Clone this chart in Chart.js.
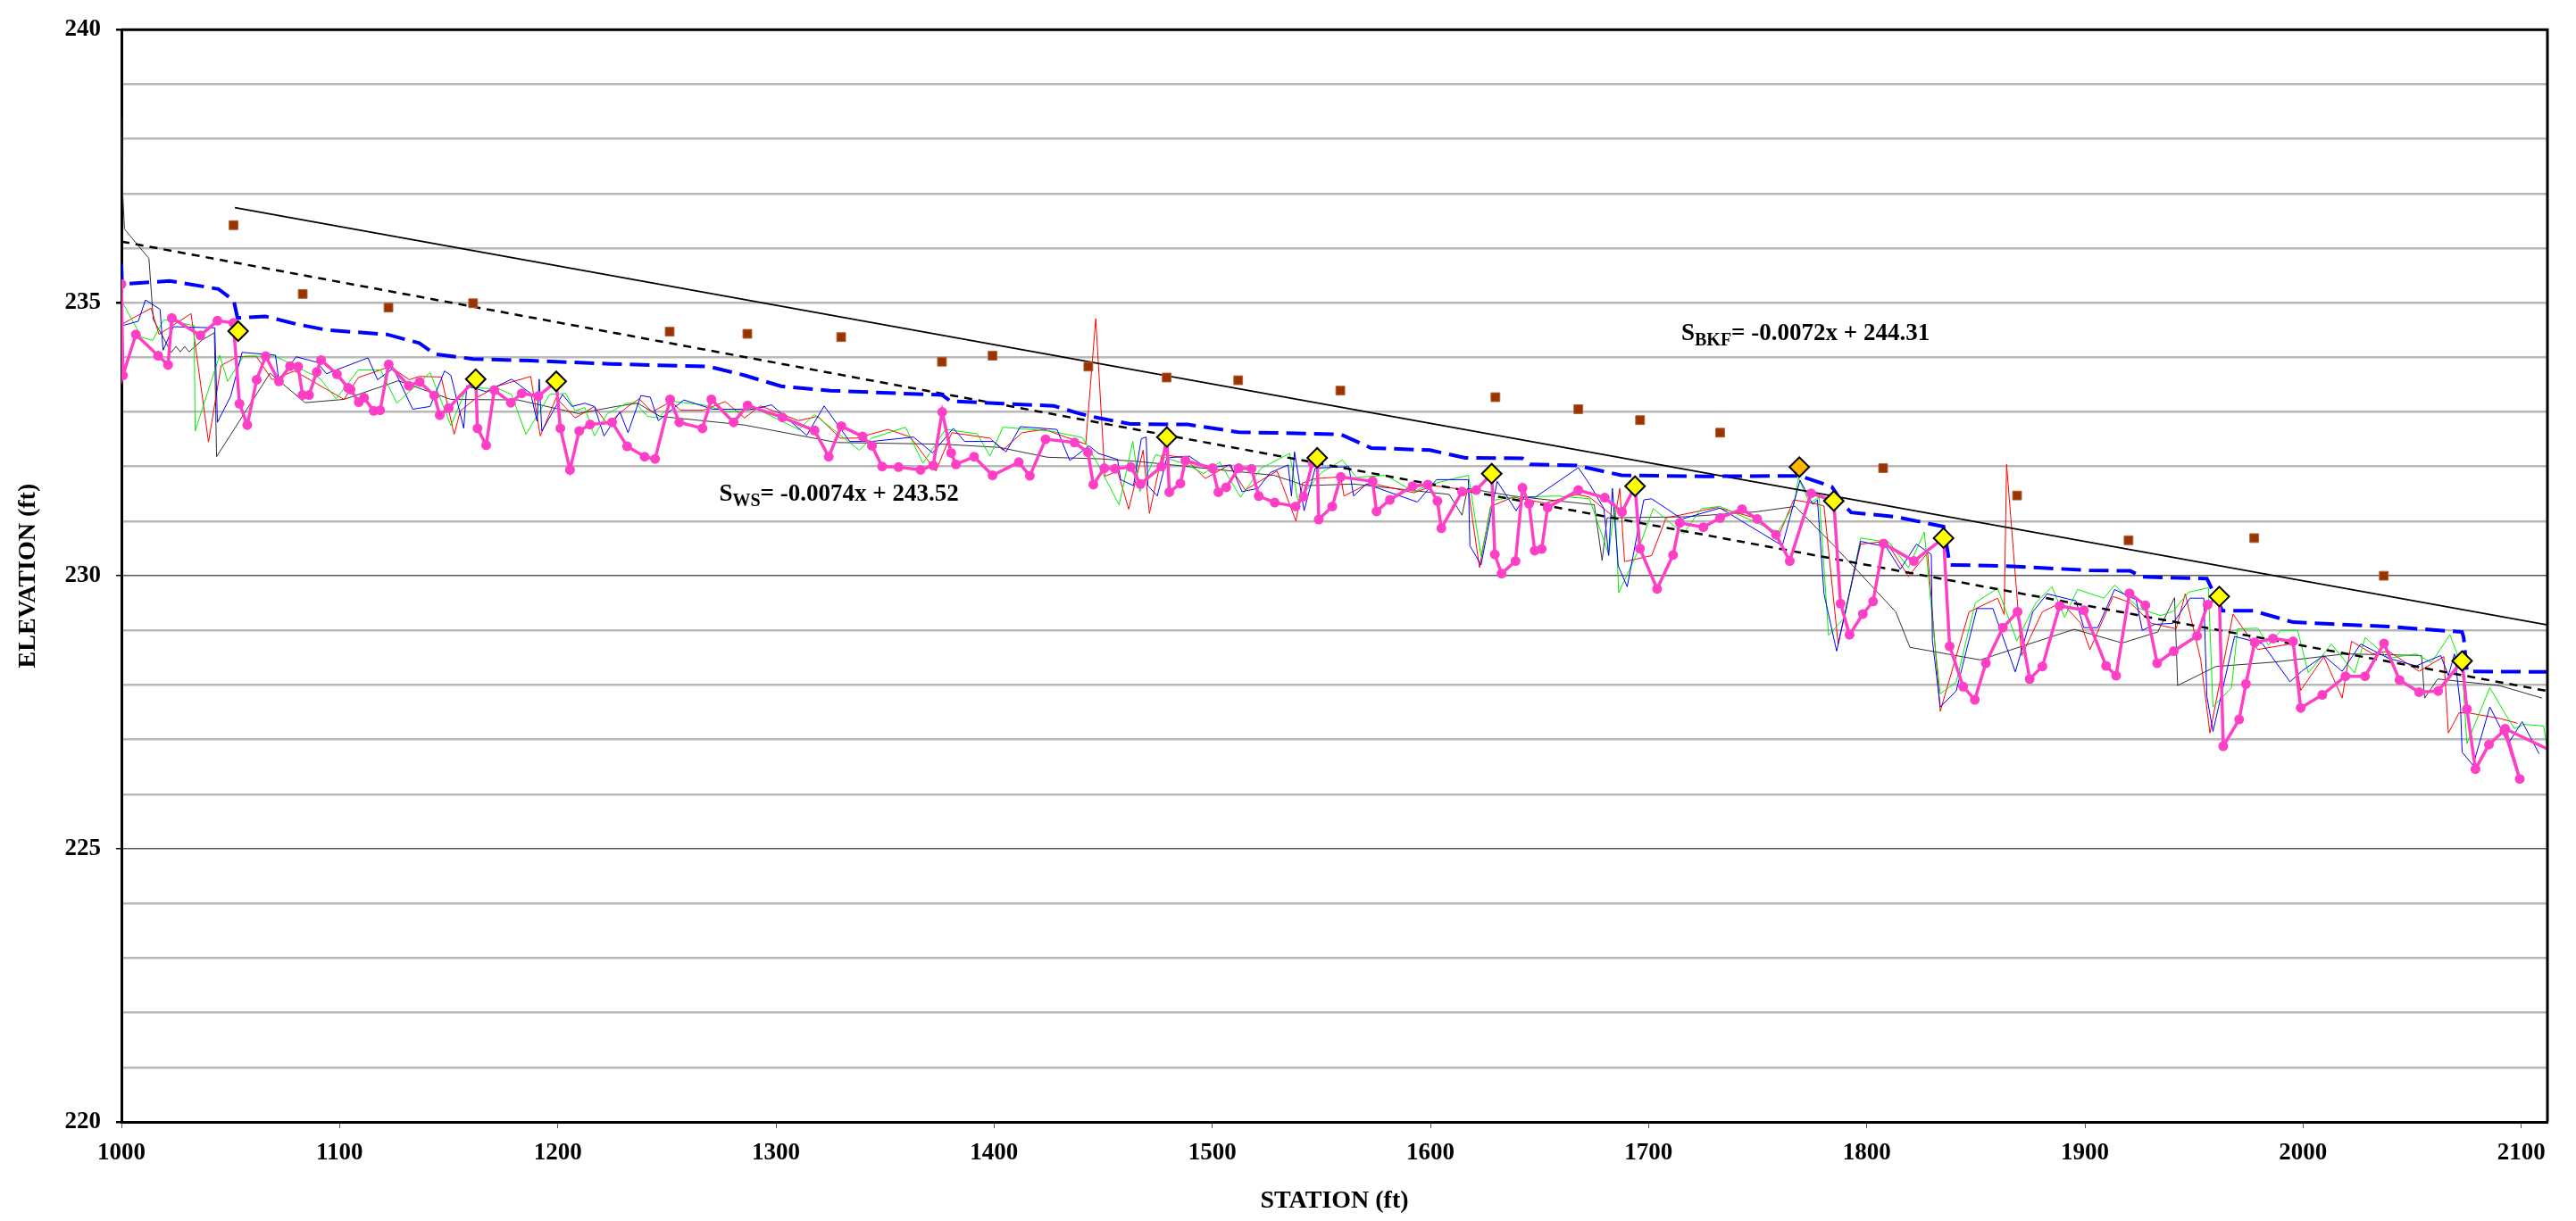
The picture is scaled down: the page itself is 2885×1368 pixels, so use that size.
<!DOCTYPE html>
<html>
<head>
<meta charset="utf-8">
<script src="https://cdn.jsdelivr.net/npm/chart.js@4.4.1/dist/chart.umd.min.js"></script>
<style>
  html, body { margin: 0; padding: 0; background: #fff; }
  #wrap { width: 2885px; height: 1368px; }
</style>
</head>
<body>
<div id="wrap"><canvas id="profile" width="2885" height="1368"></canvas></div>
<script>
// Datos del perfil longitudinal: [estación (ft), elevación (ft)]
const thalweg = [[1000.0,235.34],[1000.7,233.67],[1006.6,234.42],[1016.8,234.03],[1021.4,233.86],[1023.1,234.72],[1036.2,234.40],[1044.0,234.67],[1051.3,234.63],[1054.1,233.15],[1057.7,232.76],[1062.0,233.59],[1066.1,234.02],[1072.2,233.56],[1077.3,233.84],[1081.0,233.83],[1083.0,233.31],[1086.0,233.31],[1089.5,233.73],[1091.5,233.95],[1098.8,233.69],[1103.9,233.44],[1105.0,233.41],[1108.8,233.18],[1111.2,233.26],[1115.6,233.02],[1118.6,233.03],[1122.5,233.87],[1131.7,233.48],[1136.7,233.55],[1143.4,233.30],[1145.9,232.94],[1150.0,233.07],[1162.4,233.60],[1163.2,232.70],[1167.2,232.39],[1170.9,233.40],[1178.5,233.17],[1183.5,233.34],[1191.1,233.29],[1199.3,233.56],[1201.2,232.70],[1205.6,231.94],[1209.8,232.65],[1214.8,232.77],[1224.9,232.81],[1231.8,232.37],[1239.8,232.18],[1244.6,232.14],[1251.5,233.23],[1255.7,232.81],[1266.3,232.70],[1270.4,233.23],[1280.6,232.81],[1287.0,233.12],[1303.0,232.90],[1317.7,232.66],[1324.2,232.18],[1330.0,232.74],[1339.7,232.55],[1344.0,232.38],[1348.7,232.00],[1356.2,231.99],[1366.3,231.94],[1372.1,232.02],[1376.2,233.00],[1380.3,232.25],[1382.5,232.04],[1390.8,232.18],[1399.3,231.84],[1411.3,232.08],[1416.4,231.83],[1423.6,232.50],[1436.9,232.44],[1443.0,232.26],[1445.5,231.67],[1450.5,231.97],[1455.4,231.96],[1462.7,231.99],[1467.1,231.68],[1476.7,232.00],[1479.2,232.54],[1480.3,231.53],[1485.4,231.69],[1487.7,232.11],[1500.1,231.97],[1502.8,231.53],[1506.4,231.62],[1512.1,231.97],[1518.0,231.96],[1521.3,231.46],[1528.6,231.34],[1538.2,231.27],[1541.8,231.45],[1546.0,232.07],[1548.1,232.16],[1548.8,231.03],[1555.0,231.27],[1558.9,231.81],[1573.5,231.73],[1575.3,231.18],[1581.4,231.39],[1591.8,231.64],[1598.8,231.67],[1603.2,231.37],[1605.0,230.87],[1614.5,231.54],[1621.0,231.57],[1628.1,231.87],[1629.5,230.39],[1632.6,230.04],[1639.0,230.27],[1642.2,231.61],[1645.2,231.32],[1647.8,230.46],[1651.0,230.49],[1653.7,231.25],[1667.8,231.57],[1679.9,231.43],[1687.8,231.17],[1693.8,231.64],[1696.0,230.50],[1703.9,229.76],[1711.2,230.38],[1714.3,230.97],[1725.1,230.89],[1732.8,231.06],[1742.8,231.22],[1749.8,231.04],[1758.4,230.75],[1764.7,230.27],[1774.5,231.51],[1784.9,231.37],[1788.0,229.49],[1792.1,228.92],[1798.2,229.30],[1802.9,229.53],[1807.7,230.59],[1821.6,230.27],[1835.2,230.69],[1838.0,228.71],[1844.2,227.97],[1849.5,227.73],[1854.6,228.40],[1862.4,229.05],[1869.1,229.34],[1874.7,228.11],[1880.5,228.34],[1888.4,229.45],[1899.5,229.37],[1909.7,228.35],[1914.3,228.17],[1920.4,229.68],[1927.7,229.46],[1933.1,228.40],[1940.7,228.62],[1951.4,228.90],[1956.2,229.47],[1961.6,229.62],[1963.4,226.88],[1970.7,227.37],[1973.8,228.02],[1977.8,228.78],[1986.2,228.85],[1995.4,228.80],[1998.9,227.58],[2008.8,227.82],[2019.4,228.16],[2028.4,228.16],[2037.1,228.76],[2044.2,228.09],[2053.2,227.87],[2061.9,227.89],[2072.9,228.44],[2075.1,227.56],[2079.0,226.46],[2085.2,226.91],[2092.3,227.17],[2099.3,226.28],[2092.6,227.20],[2125.0,226.58]];

const waterSurface = [[1000,235.71],[1000.3,235.34],[1022.1,235.40],[1044.5,235.25],[1051.5,235.04],[1053.2,234.72],[1066,234.75],[1080,234.61],[1094,234.50],[1121.7,234.42],[1136.5,234.26],[1143.6,234.06],[1161.2,233.97],[1187.6,233.94],[1224,233.88],[1269.5,233.83],[1285.6,233.67],[1302.4,233.47],[1325,233.39],[1376.2,233.31],[1379.9,233.20],[1405.5,233.15],[1427.4,233.11],[1439.1,232.97],[1447.8,232.89],[1462.4,232.78],[1488.7,232.77],[1512.1,232.63],[1558.9,232.59],[1572.8,232.34],[1599.8,232.30],[1615.9,232.16],[1642.2,232.15],[1645.9,232.04],[1667.1,232.02],[1687.5,231.84],[1725.5,231.82],[1769.4,231.83],[1784,231.63],[1789.9,231.28],[1792.8,231.16],[1813.3,231.08],[1835.2,230.90],[1838.1,230.20],[1862.9,230.18],[1902,230.10],[1920.7,230.09],[1926.3,229.98],[1955.9,229.95],[1963,229.36],[1977.1,229.36],[1995.4,229.15],[2039.1,229.07],[2072.9,228.97],[2073.6,228.87],[2075.1,228.25],[2113,228.24]];

const survey1 = [[1000,238.4],[1000.6,237.0],[1001.4,236.35],[1012.6,235.81],[1014.6,234.69],[1018.7,234.40],[1022.8,234.09],[1025,234.2],[1027,234.1],[1029,234.2],[1031,234.1],[1037.1,234.32],[1042.6,234.45],[1043.6,232.18],[1068.1,233.71],[1084.2,233.17],[1102,233.23],[1126.9,233.57],[1151,233.23],[1181.7,233.22],[1209.5,232.97],[1226.7,233.10],[1236.6,233.16],[1246.8,232.92],[1285.6,232.76],[1328,232.44],[1376.2,232.41],[1402.5,232.35],[1424.5,232.17],[1449.3,232.14],[1466.8,232.09],[1528.2,231.84],[1542.8,231.65],[1564.8,231.68],[1608.6,231.49],[1614.5,231.11],[1617,231.6],[1637.9,231.46],[1675.1,231.30],[1678.7,230.28],[1681,231.06],[1716.8,231.08],[1749,231.17],[1767.2,231.27],[1785.5,230.53],[1813.3,229.34],[1819.8,228.69],[1852,228.46],[1895.1,229.02],[1917.1,228.77],[1933.4,228.97],[1941.1,229.60],[1942.5,227.99],[1960.1,228.34],[1986.9,228.42],[2019.4,228.57],[2054.3,228.54],[2055.7,227.76],[2061.7,228.11],[2089.9,227.99],[2109.6,227.76]];

const survey2 = [[1000.4,234.61],[1006.3,234.74],[1013.6,234.90],[1017.2,234.42],[1031.9,234.80],[1039.9,232.45],[1045.7,233.85],[1053.1,234.01],[1061.8,234.02],[1069.1,233.59],[1079.4,233.75],[1102,233.23],[1108.6,233.63],[1123.2,233.83],[1132,233.59],[1136.4,233.65],[1146.6,233.64],[1152.5,232.59],[1155.4,233.02],[1162.7,233.26],[1173,233.48],[1187.6,233.65],[1192,232.56],[1199.3,233.26],[1208,232.89],[1216.8,233.10],[1222.7,232.78],[1231.5,233.08],[1237.3,233.24],[1243.2,233.00],[1251.9,233.19],[1256.3,233.03],[1266.6,233.03],[1276.8,233.19],[1285.6,232.89],[1292.9,233.11],[1310.4,232.84],[1319.2,232.92],[1329.4,232.52],[1336.7,232.52],[1351.4,232.68],[1361.6,232.54],[1373.3,231.92],[1380.6,232.62],[1398.1,232.52],[1404,232.30],[1412.8,232.62],[1423,232.68],[1442,232.41],[1446.6,234.71],[1450.8,231.82],[1456.6,231.92],[1461.7,231.22],[1468.3,232.30],[1471.2,231.14],[1477,232.22],[1487.3,232.16],[1496.8,231.78],[1507.7,232.03],[1515.1,231.57],[1529.7,231.92],[1538.4,231.00],[1541.4,231.70],[1547.2,231.78],[1558.9,231.81],[1560.4,231.46],[1572.1,231.70],[1592.5,231.52],[1601.3,231.65],[1617.4,231.57],[1622.5,230.15],[1627.6,231.27],[1637.9,231.44],[1652.5,231.33],[1667.1,231.49],[1672.9,231.44],[1684.6,231.06],[1686.8,231.60],[1689,230.26],[1694.8,230.31],[1701.4,230.37],[1708,231.06],[1731.4,231.25],[1748.9,231.06],[1759.2,230.69],[1766.5,231.39],[1775.2,231.33],[1780.4,231.28],[1786.9,228.75],[1797.2,230.58],[1808.9,230.63],[1819.1,229.99],[1827.9,230.42],[1833.7,227.52],[1846.9,229.34],[1860,229.59],[1863,229.29],[1864.1,232.04],[1871,228.54],[1880.5,229.34],[1889.3,229.51],[1898.1,229.13],[1902.3,228.65],[1912.9,229.62],[1920.7,229.51],[1930.5,229.13],[1941.8,229.03],[1946,229.67],[1953.1,228.46],[1957.3,227.12],[1967.9,229.30],[1979.2,228.65],[1995.4,228.76],[1998.9,227.90],[2009.5,228.52],[2017.9,227.76],[2022.2,228.80],[2032,228.57],[2039.1,228.62],[2053.2,228.25],[2064.5,228.52],[2066.6,227.12],[2071.5,227.49],[2075.8,227.49],[2089.9,227.39],[2098.3,227.30]];

const survey3 = [[1000.4,235.01],[1009.2,234.37],[1014.3,234.31],[1019.4,234.69],[1033.3,234.58],[1033.8,232.65],[1045,234.04],[1048.7,233.56],[1056,234.02],[1070.6,234.02],[1091.1,233.61],[1098.4,233.24],[1108.6,233.77],[1118.8,233.77],[1126.2,233.16],[1141.5,233.72],[1151,232.75],[1158.3,233.45],[1173,233.42],[1178.8,233.32],[1185.4,232.59],[1196.3,233.32],[1203.6,233.34],[1208,233.02],[1212.4,233.08],[1216.8,232.56],[1222.7,232.97],[1231.5,233.16],[1235.9,233.16],[1241,232.92],[1246.1,232.89],[1253.4,233.19],[1266.6,233.13],[1278.3,233.00],[1291.4,233.05],[1310.4,232.68],[1317.7,232.95],[1338.2,232.30],[1344,232.52],[1359.4,232.72],[1367.4,232.06],[1377.7,232.68],[1392.3,232.60],[1398.1,232.19],[1404,232.72],[1425.9,232.65],[1440.5,232.53],[1447.8,232.03],[1457.3,231.30],[1463.6,232.46],[1466.8,231.54],[1474.1,232.22],[1488.7,232.03],[1496,231.87],[1503.4,232.08],[1512.9,231.44],[1522.4,231.97],[1535.5,232.24],[1539.2,231.38],[1550.1,231.89],[1559.6,232.12],[1566.2,231.80],[1579.4,231.84],[1592.5,231.54],[1598.4,231.65],[1608.6,231.76],[1617.4,231.84],[1623.2,230.36],[1628.4,231.38],[1637.9,231.44],[1658.3,231.46],[1672.9,231.41],[1681.7,230.39],[1684.6,231.33],[1686.3,229.69],[1694.8,230.42],[1702.1,231.23],[1716,230.77],[1724.1,231.23],[1732.8,231.27],[1759.2,230.80],[1766.5,231.28],[1768.7,231.79],[1773.8,231.33],[1778.2,231.44],[1782.5,228.91],[1789.9,229.24],[1797.2,230.69],[1810.3,230.61],[1819.1,230.15],[1826.4,230.80],[1830.8,228.91],[1833.7,227.84],[1841,228.05],[1849.8,229.51],[1860,229.77],[1868.8,228.81],[1877.6,229.51],[1884.9,229.80],[1890.7,229.24],[1896.6,229.75],[1908.7,229.59],[1913.6,229.83],[1924.9,229.40],[1934.8,229.27],[1940.4,229.35],[1947.5,229.70],[1956.6,229.78],[1958.7,227.60],[1967.2,227.95],[1970,229.03],[1979.2,229.04],[1984.1,228.73],[1989.8,229.00],[1997.5,229.00],[2002.4,228.22],[2013,228.75],[2023.6,228.22],[2028.5,228.87],[2039.1,228.49],[2051.8,228.57],[2058.8,228.41],[2067.3,228.92],[2072.9,228.33],[2075.1,226.93],[2085.6,227.95],[2092.7,227.47],[2096.9,227.20],[2101.1,227.28],[2110.3,227.25],[2111.7,226.88]];

const survey4 = [[1000.4,234.58],[1007.7,234.66],[1011,235.05],[1017.7,234.88],[1019.1,234.13],[1023.8,234.56],[1042.8,234.54],[1044,232.81],[1050.1,233.29],[1055.3,234.09],[1070.6,234.04],[1072.1,233.59],[1080.1,234.01],[1089.6,233.91],[1094,233.70],[1113,233.99],[1117.4,233.59],[1124.7,233.80],[1133.5,233.05],[1141.5,233.10],[1148.1,233.75],[1151,233.67],[1156.9,232.70],[1158.3,233.48],[1167.1,233.37],[1178.8,233.60],[1187.6,233.34],[1190.5,232.83],[1191.5,233.6],[1192.7,232.65],[1202.2,233.32],[1206.6,233.10],[1212.4,233.16],[1216.8,233.10],[1221.2,232.56],[1228.5,233.00],[1232.2,232.62],[1238.1,233.30],[1242.4,233.27],[1246.1,232.84],[1257.8,233.22],[1271,233.05],[1290,233.05],[1298,233.13],[1314.1,232.57],[1322.1,233.11],[1333.8,232.46],[1344,232.46],[1363.1,232.54],[1371.8,232.25],[1381.3,232.70],[1386.5,232.46],[1399.6,232.46],[1405.5,232.27],[1412,232.73],[1428.8,232.68],[1434.7,232.11],[1443.5,232.38],[1447.8,232.24],[1456.6,232.13],[1458,231.76],[1463.9,231.65],[1467.5,232.51],[1469.7,232.54],[1470.5,231.65],[1474.8,231.46],[1479.2,232.16],[1489.5,232.19],[1497.5,231.97],[1508.5,232.03],[1513.6,231.54],[1520.9,231.60],[1526.7,231.89],[1534.8,232.03],[1536.3,231.46],[1537.7,232.27],[1542.1,231.19],[1547.2,231.97],[1562.6,232.00],[1564.8,231.46],[1570.6,231.68],[1594,231.35],[1602.8,231.76],[1617.4,231.76],[1618.1,230.55],[1623.2,230.20],[1630.6,231.73],[1639.3,231.19],[1643,231.44],[1648.1,231.44],[1656.9,231.68],[1667.8,231.98],[1672.9,231.68],[1679.5,231.23],[1681.7,230.37],[1683.4,231.60],[1686.1,230.18],[1690.2,229.80],[1697.8,231.39],[1701.4,231.41],[1715.3,231.04],[1732.8,231.24],[1761.3,230.55],[1769.4,231.75],[1775.2,231.31],[1777.4,231.39],[1780.4,229.67],[1786.2,228.62],[1797.2,230.63],[1808.9,230.53],[1815.4,230.12],[1822.8,230.58],[1829.6,230.39],[1830.1,228.81],[1833.7,227.60],[1841,227.89],[1850.5,229.40],[1857.8,229.40],[1868.1,228.24],[1876.1,229.34],[1882.7,229.67],[1895.9,229.54],[1899.5,229.05],[1905.9,229.05],[1913.6,229.75],[1923.5,229.56],[1926.3,229.00],[1931.9,229.11],[1940.4,229.13],[1948.2,229.59],[1954.5,229.59],[1955.9,227.79],[1958.7,227.15],[1968.6,228.89],[1981.3,228.76],[1994,228.06],[1999.6,228.26],[2009.5,228.54],[2017.9,228.25],[2026.4,228.75],[2039.1,228.49],[2051.8,228.35],[2063.1,228.54],[2066.6,228.17],[2069.4,228.57],[2072.2,227.58],[2072.9,226.77],[2077.9,226.53],[2085.6,227.60],[2094.1,226.93],[2100.4,227.33],[2108.2,226.74]];

const bankfull = [[1051.4,236.42],[1083.1,235.16],[1122.4,234.91],[1161.2,234.99],[1251.3,234.47],[1286.9,234.43],[1329.9,234.37],[1376.1,233.92],[1399.3,234.03],[1443.2,233.83],[1479.1,233.63],[1511.9,233.58],[1558.7,233.39],[1629.8,233.27],[1667.8,233.05],[1696.1,232.85],[1732.8,232.62],[1807.5,231.97],[1868.9,231.47],[1920.0,230.65],[1977.6,230.69],[2037.0,230.00]];

const riffleHeads = [[1053.5,234.48],[1162.4,233.60],[1199.3,233.56],[1479.2,232.54],[1548.1,232.16],[1628.1,231.87],[1693.8,231.64],[1784.9,231.37],[1835.2,230.69],[1961.6,229.62],[2072.9,228.44]];
const riffleOrange = [[1769.1,231.99]];

// Líneas de tendencia (extremos)
const bkfTrend = [[1052,236.74],[2112,229.10]];
const wsTrend = [[1000,236.12],[2112,227.89]];

const xTicks = [1000, 1100, 1200, 1300, 1400, 1500, 1600, 1700, 1800, 1900, 2000, 2100];
const yLabels = [220, 225, 230, 235, 240];
const eqWS = { lead: 'S', sub: 'WS', rest: '= -0.0074x + 243.52', x: 1274, y: 231.38 };
const eqBKF = { lead: 'S', sub: 'BKF', rest: '= -0.0072x + 244.31', x: 1715, y: 234.32 };

const toXY = arr => arr.map(p => ({ x: p[0], y: p[1] }));
const SERIF = '"Liberation Serif", "Times New Roman", serif';

function thinLine(data, color, order) {
    return {
        data: toXY(data), showLine: true, borderColor: color, borderWidth: 1,
        pointRadius: 0, tension: 0, order: order
    };
}

// Bordes superior/derecho y ecuaciones
const framePlugin = {
    id: 'frame',
    afterDraw(chart) {
        const { ctx, chartArea: a, scales } = chart;
        ctx.save();
        ctx.strokeStyle = '#000';
        ctx.lineWidth = 3;
        ctx.beginPath();
        ctx.moveTo(a.left, a.top);
        ctx.lineTo(a.right, a.top);
        ctx.lineTo(a.right, a.bottom);
        ctx.stroke();

        [eqWS, eqBKF].forEach(eq => {
            let px = scales.x.getPixelForValue(eq.x);
            const py = scales.y.getPixelForValue(eq.y);
            ctx.fillStyle = '#000';
            ctx.textBaseline = 'alphabetic';
            ctx.font = 'bold 27px ' + SERIF;
            ctx.fillText(eq.lead, px, py);
            px += ctx.measureText(eq.lead).width;
            ctx.font = 'bold 20px ' + SERIF;
            ctx.fillText(eq.sub, px, py + 6);
            px += ctx.measureText(eq.sub).width;
            ctx.font = 'bold 27px ' + SERIF;
            ctx.fillText(eq.rest, px, py);
        });
        ctx.restore();
    }
};

const chart = new Chart(document.getElementById('profile').getContext('2d'), {
    type: 'scatter',
    data: {
        datasets: [
            { data: toXY(riffleHeads), pointStyle: 'rectRot', pointRadius: 11, pointBackgroundColor: '#ffff00', pointBorderColor: '#000', pointBorderWidth: 2, order: 0 },
            { data: toXY(riffleOrange), pointStyle: 'rectRot', pointRadius: 11, pointBackgroundColor: '#ffb400', pointBorderColor: '#000', pointBorderWidth: 2, order: 0 },
            { data: toXY(bankfull), pointStyle: 'rect', pointRadius: 7, pointBackgroundColor: '#993300', pointBorderColor: '#b5653a', pointBorderWidth: 1, order: 1 },
            { data: toXY(thalweg), showLine: true, borderColor: '#ff3fc6', borderWidth: 3.5, pointRadius: 5.5, pointBackgroundColor: '#ff3fc6', pointBorderWidth: 0, tension: 0, order: 2 },
            { data: toXY(waterSurface), showLine: true, borderColor: '#0000ff', borderWidth: 4, borderDash: [22, 9], pointRadius: 0, tension: 0, order: 3 },
            { data: toXY(wsTrend), showLine: true, borderColor: '#000', borderWidth: 2.5, borderDash: [9, 7], pointRadius: 0, order: 4 },
            { data: toXY(bkfTrend), showLine: true, borderColor: '#000', borderWidth: 1.8, pointRadius: 0, order: 5 },
            thinLine(survey4, '#0000ff', 6),
            thinLine(survey3, '#00ee00', 7),
            thinLine(survey2, '#ff0000', 8),
            thinLine(survey1, '#333333', 9)
        ]
    },
    options: {
        responsive: false,
        animation: false,
        devicePixelRatio: 1,
        layout: { padding: { top: 16, right: 32, left: 0, bottom: 0 } },
        plugins: { legend: { display: false }, tooltip: { enabled: false } },
        scales: {
            x: {
                type: 'linear', min: 1000, max: 2112,
                afterFit: s => { s.height = 111; },
                afterBuildTicks: s => { s.ticks = xTicks.map(v => ({ value: v })); },
                ticks: {
                    padding: 12, color: '#000',
                    font: { family: SERIF, size: 27, weight: 'bold' },
                    callback: v => String(v)
                },
                grid: { drawOnChartArea: false, tickLength: 7, color: '#555', lineWidth: 1 },
                border: { color: '#000', width: 3 },
                title: { display: true, text: 'STATION (ft)', color: '#000', padding: { top: 0, bottom: 5 }, font: { family: SERIF, size: 28, weight: 'bold' } }
            },
            y: {
                min: 220, max: 240,
                afterFit: s => { s.width = 136; },
                ticks: {
                    stepSize: 1, padding: 17, color: '#000',
                    font: { family: SERIF, size: 27, weight: 'bold' },
                    callback: v => (yLabels.includes(v) ? String(v) : '')
                },
                grid: {
                    tickLength: 6,
                    tickColor: c => (yLabels.includes(c.tick.value) ? '#000' : 'rgba(0,0,0,0)'),
                    color: c => (c.tick.value === 230 || c.tick.value === 225 ? '#5a5a5a' : '#b8b8b8'),
                    lineWidth: c => (c.tick.value === 230 || c.tick.value === 225 ? 1.5 : 2.5)
                },
                border: { color: '#000', width: 3 },
                title: { display: true, text: 'ELEVATION (ft)', color: '#000', padding: { top: 15, bottom: 0 }, font: { family: SERIF, size: 28, weight: 'bold' } }
            }
        }
    },
    plugins: [framePlugin]
});
</script>
</body>
</html>
